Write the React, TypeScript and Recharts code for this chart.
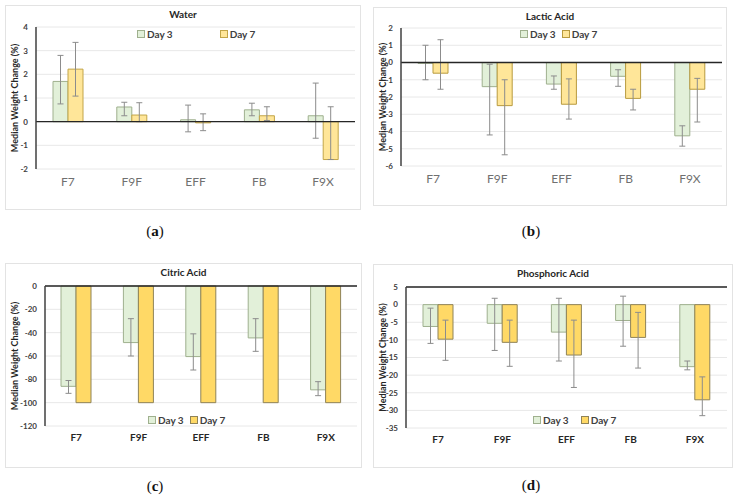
import { BarChart, Bar, XAxis, YAxis, CartesianGrid, ErrorBar, ReferenceLine } from 'recharts';

const categories = ['F7', 'F9F', 'EFF', 'FB', 'F9X'];

// Water
const waterDay3 = [1.7, 0.62, 0.08, 0.5, 0.25];
const waterDay7 = [2.22, 0.28, -0.05, 0.25, -1.6];
const waterDay3Range = [[0.75, 2.8], [0.25, 0.82], [-0.43, 0.7], [0.25, 0.78], [-0.7, 1.63]];
const waterDay7Range = [[1.08, 3.35], [0.0, 0.8], [-0.38, 0.33], [0.05, 0.63], [-1.6, 0.63]];

// Lactic acid
const lacticDay3 = [-0.05, -1.4, -1.25, -0.8, -4.25];
const lacticDay7 = [-0.62, -2.5, -2.42, -2.08, -1.55];
const lacticDay3Range = [[-1.0, 1.0], [-4.2, -0.1], [-1.55, -0.78], [-1.38, -0.42], [-4.85, -3.67]];
const lacticDay7Range = [[-1.55, 1.32], [-5.35, -1.0], [-3.28, -0.95], [-2.75, -1.55], [-3.45, -0.92]];

// Citric acid
const citricDay3 = [-86, -48.5, -60.5, -44.5, -89];
const citricDay7 = [-100, -100, -100, -100, -100];
const citricDay3Range = [[-92, -81], [-60, -28], [-72, -41], [-56, -28], [-94, -82]];

// Phosphoric acid
const phosDay3 = [-6.2, -5.3, -7.8, -4.5, -17.6];
const phosDay7 = [-9.8, -10.7, -14.3, -9.3, -27];
const phosDay3Range = [[-11, -1], [-13, 1.8], [-16, 1.8], [-11.8, 2.4], [-18.5, -16]];
const phosDay7Range = [[-15.8, -4.4], [-17.5, -4.4], [-23.5, -4.4], [-18, -2.2], [-31.5, -20.5]];

const waterTicks = [-2, -1, 0, 1, 2, 3, 4];
const lacticTicks = [-6, -5, -4, -3, -2, -1, 0, 1, 2];
const citricTicks = [-120, -100, -80, -60, -40, -20, 0];
const phosTicks = [-35, -30, -25, -20, -15, -10, -5, 0, 5];

const FONT = 'Lato, "Open Sans", sans-serif';

function buildRows(d3: number[], d7: number[], r3?: number[][], r7?: number[][]) {
  return categories.map((name, i) => ({
    name,
    d3: d3[i],
    d7: d7[i],
    e3: r3 ? [d3[i] - r3[i][0], r3[i][1] - d3[i]] : [0, 0],
    e7: r7 ? [d7[i] - r7[i][0], r7[i][1] - d7[i]] : [0, 0],
  }));
}

type PanelProps = {
  left: number; top: number; width: number; height: number;
  title: string;
  rows: any[];
  domain: [number, number];
  ticks: number[];
  yWidth: number;
  marginTop: number; marginRight: number; bottom: number;
  legendLeft: number; legendTop: number; legendGap: number;
  day7Fill: string; day7Stroke: string;
  xTickStyle: any;
  axisY: number;
  showE7: boolean;
};

function LegendBox({ gap, day7Fill, day7Stroke, left, top }: { gap: number; day7Fill: string; day7Stroke: string; left: number; top: number }) {
  const items = [
    { label: 'Day 3', fill: '#E2F0D9', stroke: '#9FB08E' },
    { label: 'Day 7', fill: day7Fill, stroke: day7Stroke },
  ];
  return (
    <div style={{ position: 'absolute', left, top, display: 'flex', gap, fontFamily: FONT, fontWeight: 700, fontSize: 10, lineHeight: '12px', color: '#404040' }}>
      {items.map((it) => (
        <div key={it.label} style={{ display: 'flex', alignItems: 'center', gap: 2 }}>
          <span style={{ width: 6, height: 6, background: it.fill, border: `1px solid ${it.stroke}` }} />
          <span>{it.label}</span>
        </div>
      ))}
    </div>
  );
}

function Panel(p: PanelProps) {
  return (
    <div style={{ position: 'absolute', left: p.left, top: p.top, width: p.width, height: p.height, border: '1px solid #E3E3E3', boxSizing: 'border-box' }}>
      <div style={{ position: 'absolute', left: 0, width: '100%', top: 2, textAlign: 'center', fontFamily: FONT, fontWeight: 700, fontSize: 10, color: '#262626' }}>
        {p.title}
      </div>
      <BarChart
        width={p.width - 2}
        height={p.height - 2}
        data={p.rows}
        margin={{ top: p.marginTop, right: p.marginRight, left: 0, bottom: p.bottom - 30 }}
        barSize={15}
        barGap={0}
      >
        <CartesianGrid vertical={false} stroke="#E8E8E8" />
        <XAxis dataKey="name" axisLine={false} tickLine={false} height={30} tick={p.xTickStyle} interval={0} />
        <YAxis
          width={p.yWidth}
          domain={p.domain}
          ticks={p.ticks}
          interval={0}
          axisLine={{ stroke: '#404040', strokeWidth: 1.5 }}
          tickLine={false}
          tick={{ fontSize: 8, fontWeight: 700, fill: '#404040', fontFamily: FONT }}
          label={{ value: 'Median Weight Change (%)', angle: -90, position: 'insideLeft', offset: 9, style: { fontSize: 9, fontWeight: 700, fill: '#262626', fontFamily: FONT, textAnchor: 'middle' } }}
        />
        <Bar dataKey="d3" name="Day 3" fill="#E2F0D9" stroke="#9FB08E" strokeWidth={1} isAnimationActive={false}>
          <ErrorBar dataKey="e3" width={3} stroke="#8C8C8C" strokeWidth={1} direction="y" />
        </Bar>
        <Bar dataKey="d7" name="Day 7" fill={p.day7Fill} stroke={p.day7Stroke} strokeWidth={1} isAnimationActive={false}>
          {p.showE7 && <ErrorBar dataKey="e7" width={3} stroke="#8C8C8C" strokeWidth={1} direction="y" />}
        </Bar>
        <ReferenceLine y={p.axisY} stroke="#262626" strokeWidth={1.3} />
      </BarChart>
      <LegendBox left={p.legendLeft} top={p.legendTop} gap={p.legendGap} day7Fill={p.day7Fill} day7Stroke={p.day7Stroke} />
    </div>
  );
}

const captionStyle: any = { position: 'absolute', width: 60, textAlign: 'center', fontFamily: '"Liberation Serif", serif', fontSize: 15, color: '#111' };

export default function App() {
  const lightX = { fontSize: 12, fill: '#707070', fontFamily: FONT };
  const boldX = { fontSize: 10, fontWeight: 700, fill: '#262626', fontFamily: FONT };
  return (
    <div style={{ position: 'absolute', left: 0, top: 0, width: 737, height: 503, background: '#fff', overflow: 'hidden' }}>
      <Panel
        left={5} top={5} width={356} height={205}
        title="Water"
        rows={buildRows(waterDay3, waterDay7, waterDay3Range, waterDay7Range)}
        domain={[-2, 4]} ticks={waterTicks} yWidth={30}
        marginTop={21} marginRight={5} bottom={40}
        legendLeft={131} legendTop={22} legendGap={47}
        day7Fill="#FFE699" day7Stroke="#C2A548"
        xTickStyle={lightX} axisY={0} showE7={true}
      />
      <Panel
        left={373} top={7} width={354} height={199}
        title="Lactic Acid"
        rows={buildRows(lacticDay3, lacticDay7, lacticDay3Range, lacticDay7Range)}
        domain={[-6, 2]} ticks={lacticTicks} yWidth={27}
        marginTop={20} marginRight={4} bottom={39}
        legendLeft={146} legendTop={20} legendGap={6}
        day7Fill="#FFE699" day7Stroke="#B89A3E"
        xTickStyle={lightX} axisY={0} showE7={true}
      />
      <Panel
        left={5} top={263} width={357} height={205}
        title="Citric Acid"
        rows={buildRows(citricDay3, citricDay7, citricDay3Range)}
        domain={[-120, 0]} ticks={citricTicks} yWidth={39}
        marginTop={22} marginRight={4} bottom={41}
        legendLeft={142} legendTop={150} legendGap={6}
        day7Fill="#FFD966" day7Stroke="#8F8358"
        xTickStyle={boldX} axisY={0} showE7={false}
      />
      <Panel
        left={373} top={264} width={360} height={204}
        title="Phosphoric Acid"
        rows={buildRows(phosDay3, phosDay7, phosDay3Range, phosDay7Range)}
        domain={[-35, 5]} ticks={phosTicks} yWidth={32}
        marginTop={22} marginRight={5} bottom={39}
        legendLeft={159} legendTop={149} legendGap={12}
        day7Fill="#FFD966" day7Stroke="#8F8358"
        xTickStyle={boldX} axisY={5} showE7={true}
      />
      <div style={{ ...captionStyle, left: 125, top: 223 }}>(<b>a</b>)</div>
      <div style={{ ...captionStyle, left: 501, top: 223 }}>(<b>b</b>)</div>
      <div style={{ ...captionStyle, left: 125, top: 478 }}>(<b>c</b>)</div>
      <div style={{ ...captionStyle, left: 501, top: 477 }}>(<b>d</b>)</div>
    </div>
  );
}
